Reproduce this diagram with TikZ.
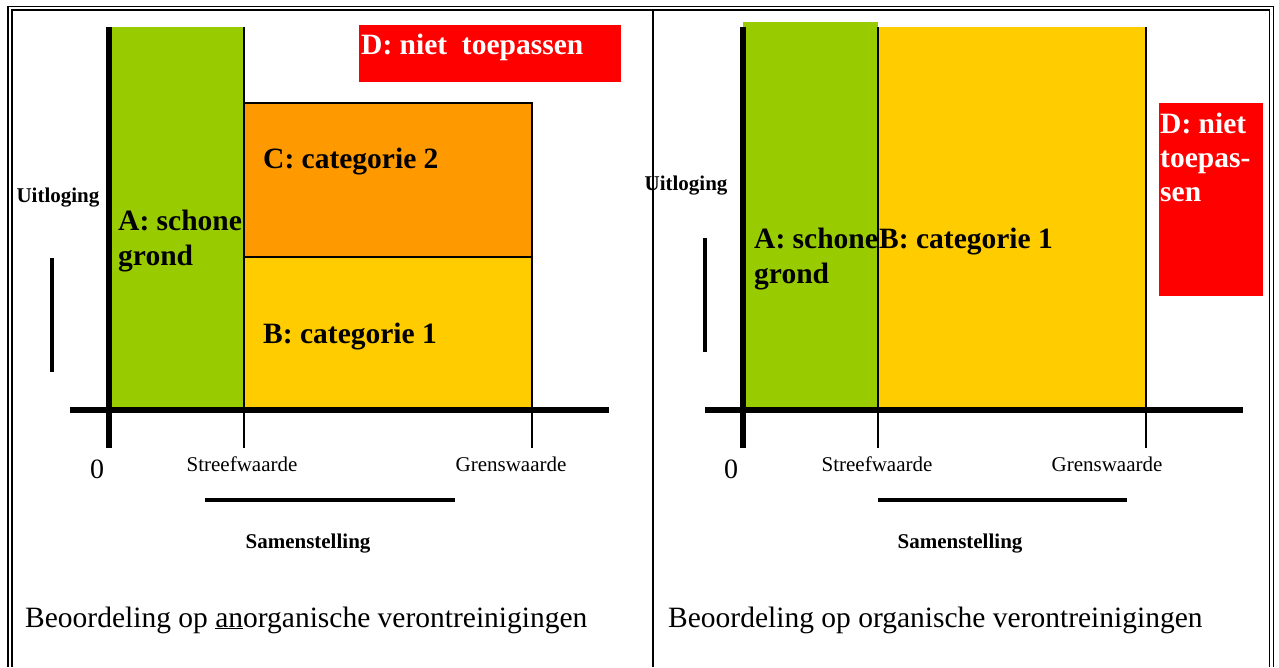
\documentclass[tikz,border=0pt]{standalone}
\usepackage{fontspec}
\setmainfont{Liberation Serif}
\definecolor{groen}{HTML}{99CC00}
\definecolor{oranje}{HTML}{FF9900}
\definecolor{geel}{HTML}{FFCC00}
\definecolor{rood}{HTML}{FF0000}
\begin{document}
\begin{tikzpicture}[x=1pt,y=-1pt]
        \tikzstyle{frame_line} = [draw=black, line width=1.8]
        \tikzstyle{thin_line} = [draw=black, line width=1.4]
        \tikzstyle{axis_line} = [draw=black, line width=6.5]
        \tikzstyle{bar_line} = [draw=black, line width=3.2]
        \tikzstyle{big_label} = [anchor=base west, inner sep=0pt, align=left, font=\fontsize{29.5}{35}\selectfont\bfseries]
        \tikzstyle{tick_label} = [anchor=base, inner sep=0pt, font=\fontsize{21}{25}\selectfont]
        \tikzstyle{axis_title} = [anchor=base, inner sep=0pt, font=\fontsize{21}{25}\selectfont\bfseries]
        \tikzstyle{zero_label} = [anchor=base, inner sep=0pt, font=\fontsize{28}{32}\selectfont]
        \tikzstyle{caption_label} = [anchor=base west, inner sep=0pt, font=\fontsize{29.5}{35}\selectfont]

        \useasboundingbox (0,0) rectangle (1279,667);

        % The double frame round both panels
        \draw[frame_line] (8,667) |- (1273.5,6.5) -- (1273.5,667);
        \draw[frame_line] (12,667) |- (1269.5,10) -- (1269.5,667);
        \draw[frame_line] (653,10) -- (653,667);

        % This is the left panel (anorganisch)
        \coordinate (l_ytop) at (109,27);
        \coordinate (l_ybot) at (109,448);
        \coordinate (l_xleft) at (70,410);
        \coordinate (l_xright) at (609,410);
        \coordinate (l_streef) at (244,448);
        \coordinate (l_grens) at (532,448);

        \fill[groen] (l_ytop) rectangle (244,408);
        \filldraw[fill=oranje, thin_line] (244,103) rectangle (532,257);
        \filldraw[fill=geel, thin_line] (244,257) rectangle (532,408);
        \draw[thin_line] (244,27) -- (l_streef);
        \draw[thin_line] (532,103) -- (l_grens);
        \draw[axis_line] (l_ytop) -- (l_ybot);
        \draw[axis_line] (l_xleft) -- (l_xright);
        \fill[rood] (359,25) rectangle (621,82);

        % multi-line labels sit on the baseline of their last line
        \node[big_label, text=white] (l_d) at (361,54) {D: niet\ \ toepassen};
        \node[big_label] (l_c) at (263,168) {C: categorie 2};
        \node[big_label] (l_a) at (118,265) {A: schone\\grond};
        \node[big_label] (l_b) at (263,343) {B: categorie 1};

        \node[zero_label] (l_zero) at (97,478) {0};
        \node[tick_label] (l_streef_lbl) at (242,471) {Streefwaarde};
        \node[tick_label] (l_grens_lbl) at (511,471) {Grenswaarde};
        \node[axis_title] (l_samen) at (308,548) {Samenstelling};
        \node[axis_title] (l_uit) at (58,202) {Uitloging};

        \coordinate (l_bar_a) at (205,500);
        \coordinate (l_bar_b) at (455,500);
        \coordinate (l_vbar_a) at (52,258);
        \coordinate (l_vbar_b) at (52,372);
        \draw[bar_line] (l_bar_a) -- (l_bar_b);
        \draw[bar_line] (l_vbar_a) -- (l_vbar_b);

        \node[caption_label] (l_caption) at (25,627) {Beoordeling op \underline{an}organische verontreinigingen};

        % Then the right panel (organisch)
        \coordinate (r_ytop) at (743,27);
        \coordinate (r_ybot) at (743,448);
        \coordinate (r_xleft) at (705,410);
        \coordinate (r_xright) at (1243,410);
        \coordinate (r_streef) at (878,448);
        \coordinate (r_grens) at (1146,448);

        \fill[groen] (743,22) rectangle (878,408);
        \fill[geel] (878,27) rectangle (1146,408);
        \draw[thin_line] (878,27) -- (r_streef);
        \draw[thin_line] (1146,27) -- (r_grens);
        \draw[axis_line] (r_ytop) -- (r_ybot);
        \draw[axis_line] (r_xleft) -- (r_xright);
        \fill[rood] (1159,103) rectangle (1263,296);

        \node[big_label, text=white, font=\fontsize{29.5}{34}\selectfont\bfseries] (r_d) at (1160,201) {D: niet\\toepas-\\sen};
        \node[big_label] (r_a) at (754,283) {A: schone\\grond};
        \node[big_label] (r_b) at (879,248) {B: categorie 1};

        \node[zero_label] (r_zero) at (731,478) {0};
        \node[tick_label] (r_streef_lbl) at (877,471) {Streefwaarde};
        \node[tick_label] (r_grens_lbl) at (1107,471) {Grenswaarde};
        \node[axis_title] (r_samen) at (960,548) {Samenstelling};
        \node[axis_title] (r_uit) at (686,190) {Uitloging};

        \coordinate (r_bar_a) at (878,500);
        \coordinate (r_bar_b) at (1127,500);
        \coordinate (r_vbar_a) at (705,238);
        \coordinate (r_vbar_b) at (705,352);
        \draw[bar_line] (r_bar_a) -- (r_bar_b);
        \draw[bar_line] (r_vbar_a) -- (r_vbar_b);

        \node[caption_label] (r_caption) at (668,627) {Beoordeling op organische verontreinigingen};
\end{tikzpicture}
\end{document}
